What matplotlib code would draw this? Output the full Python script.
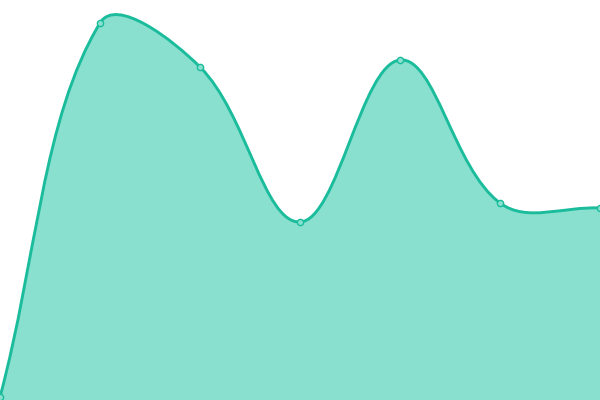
import numpy as np
import matplotlib
matplotlib.use("Agg")
import matplotlib.pyplot as plt
from matplotlib.path import Path
from matplotlib.patches import PathPatch

categories = ["A", "B", "C", "D", "E", "F", "G"]
values = [3, 377, 333, 178, 340, 197, 192]

LINE = "#1abc9c"
FILL = "#89e0cf"

xs = np.arange(len(categories), dtype=float)

fig = plt.figure(figsize=(6, 4), dpi=100)
ax = fig.add_axes([0, 0, 1, 1])
ax.set_xlim(0, len(categories) - 1)
ax.set_ylim(0, 400)
ax.axis("off")

# convert to pixel space for spline smoothing
tr = ax.transData
pts = tr.transform(np.column_stack([xs, values]))
smooth = 0.37
n = len(pts)
verts = [tuple(pts[0])]
codes = [Path.MOVETO]
cps_out = []
cps_in = []
for i in range(n):
    p = pts[i]
    prev = pts[i - 1] if i > 0 else p
    nxt = pts[i + 1] if i < n - 1 else p
    v = nxt - prev
    l0 = np.hypot(*(p - prev))
    l1 = np.hypot(*(nxt - p))
    r = l1 / (l0 + l1) if (l0 + l1) > 0 else 0.5
    cps_out.append(p + v * smooth * r)
    cps_in.append(p - v * smooth * (1 - r))
for i in range(1, n):
    verts += [tuple(cps_out[i - 1]), tuple(cps_in[i]), tuple(pts[i])]
    codes += [Path.CURVE4] * 3

inv = tr.inverted()
dverts = inv.transform(np.array(verts))
line_path = Path(dverts, codes)
fill_verts = list(map(tuple, dverts)) + [(xs[-1], 0), (xs[0], 0), tuple(dverts[0])]
fill_codes = codes + [Path.LINETO, Path.LINETO, Path.CLOSEPOLY]
ax.add_patch(PathPatch(Path(fill_verts, fill_codes), facecolor=FILL, edgecolor="none"))
ax.add_patch(PathPatch(line_path, facecolor="none", edgecolor=LINE, lw=2.1, capstyle="round", joinstyle="round"))
ax.plot(xs, values, "o", ms=4.5, mfc=FILL, mec=LINE, mew=1.0, clip_on=False)

fig.savefig("out.png", dpi=100)
